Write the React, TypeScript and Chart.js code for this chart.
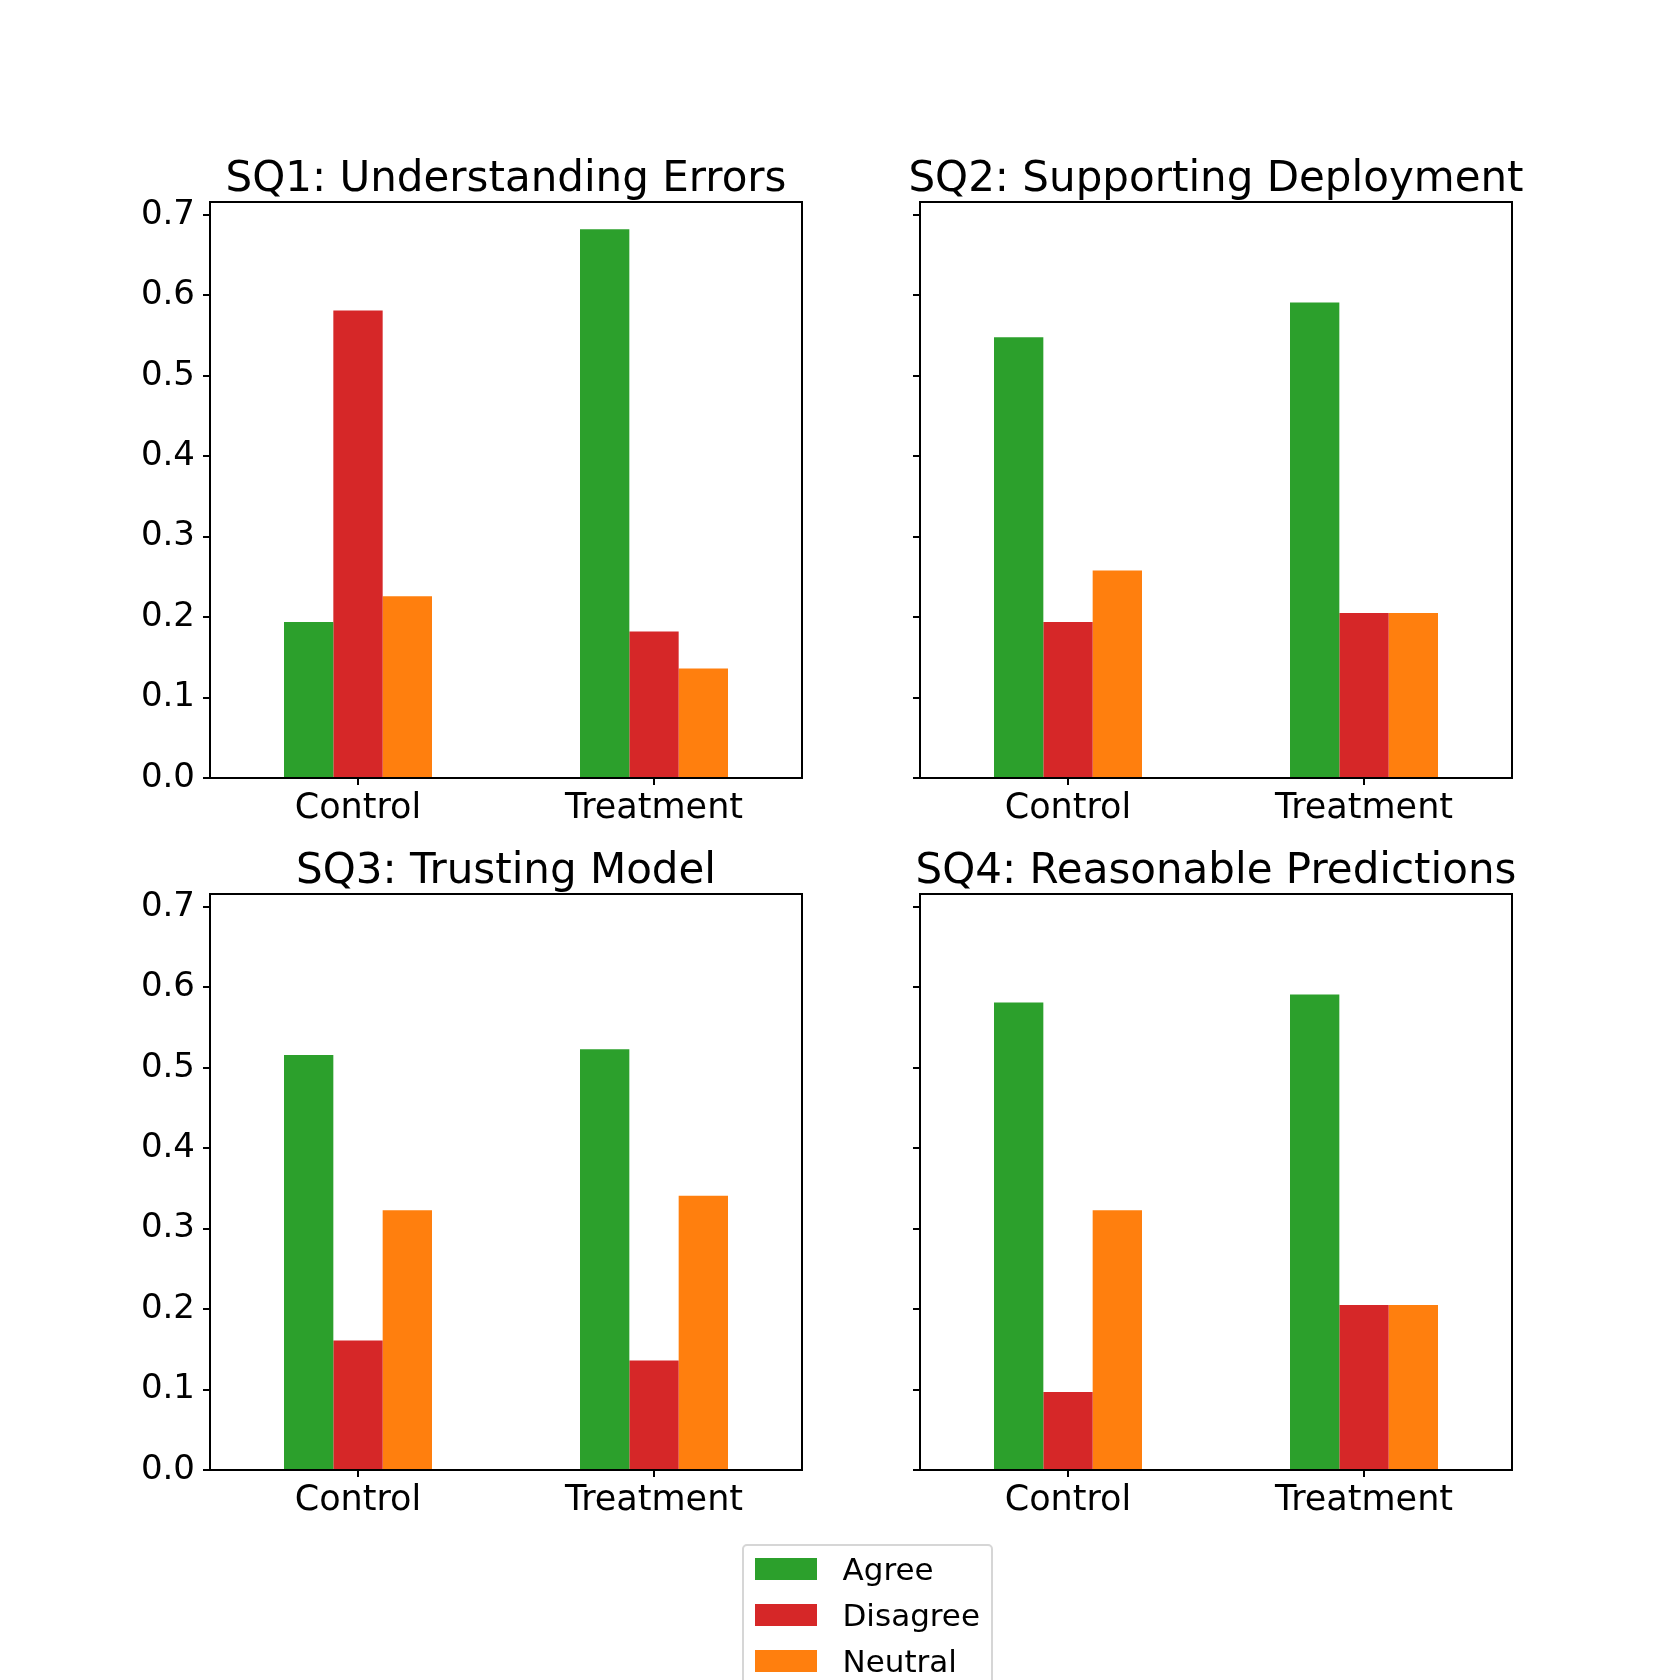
import React, { useEffect, useRef } from "react";
import { Chart, registerables } from "chart.js";

Chart.register(...registerables);

const categories = ["Control", "Treatment"];
const seriesLabels = ["Agree", "Disagree", "Neutral"];
const seriesColors = ["#2ca02c", "#d62728", "#ff7f0e"];

const sq1Agree = [0.194, 0.682];
const sq1Disagree = [0.581, 0.182];
const sq1Neutral = [0.226, 0.136];

const sq2Agree = [0.548, 0.591];
const sq2Disagree = [0.194, 0.205];
const sq2Neutral = [0.258, 0.205];

const sq3Agree = [0.516, 0.523];
const sq3Disagree = [0.161, 0.136];
const sq3Neutral = [0.323, 0.341];

const sq4Agree = [0.581, 0.591];
const sq4Disagree = [0.097, 0.205];
const sq4Neutral = [0.323, 0.205];

const titles = [
  "SQ1: Understanding Errors",
  "SQ2: Supporting Deployment",
  "SQ3: Trusting Model",
  "SQ4: Reasonable Predictions",
];

const yTicks = [0, 0.1, 0.2, 0.3, 0.4, 0.5, 0.6, 0.7];
const yMax = 0.716;

const panels = [
  { title: titles[0], data: [sq1Agree, sq1Disagree, sq1Neutral], showY: true },
  { title: titles[1], data: [sq2Agree, sq2Disagree, sq2Neutral], showY: false },
  { title: titles[2], data: [sq3Agree, sq3Disagree, sq3Neutral], showY: true },
  { title: titles[3], data: [sq4Agree, sq4Disagree, sq4Neutral], showY: false },
];

// layout (page pixels)
const AX_LEFT = [210, 920, 210, 920];
const AX_TOP = [202, 202, 894, 894];
const AX_W = 592;
const AX_H = 576;
const PAD_L = 200;
const PAD_T = 100;
const PAD_R = 60;
const PAD_B = 100;

const FONT = "'DejaVu Sans', 'Liberation Sans', sans-serif";

const framePlugin = {
  id: "frameTitle",
  afterDatasetsDraw(chart: any) {
    const { ctx, chartArea } = chart;
    const { left, top, right, bottom } = chartArea;
    ctx.save();
    ctx.strokeStyle = "#000";
    ctx.lineWidth = 2;
    ctx.strokeRect(left, top, right - left, bottom - top);
    ctx.restore();
  },
  afterDraw(chart: any, _args: any, opts: any) {
    const { ctx, chartArea } = chart;
    ctx.save();
    ctx.fillStyle = "#000";
    ctx.font = `42px ${FONT}`;
    ctx.textAlign = "center";
    ctx.textBaseline = "alphabetic";
    ctx.fillText(opts.text || "", (chartArea.left + chartArea.right) / 2, chartArea.top - 11);
    ctx.restore();
  },
};

function Panel({ idx }: { idx: number }) {
  const ref = useRef<HTMLCanvasElement | null>(null);
  const p = panels[idx];
  const w = AX_W + PAD_L + PAD_R;
  const h = AX_H + PAD_T + PAD_B;
  useEffect(() => {
    if (!ref.current) return;
    const chart = new Chart(ref.current, {
      type: "bar",
      data: {
        labels: categories,
        datasets: seriesLabels.map((lab, i) => ({
          label: lab,
          data: p.data[i],
          backgroundColor: seriesColors[i],
          borderWidth: 0,
          categoryPercentage: 0.5,
          barPercentage: 1.0,
        })),
      },
      options: {
        responsive: false,
        animation: false,
        devicePixelRatio: 1,
        layout: { padding: { top: PAD_T, right: PAD_R, left: 0, bottom: 0 } },
        plugins: {
          legend: { display: false },
          tooltip: { enabled: false },
          title: { display: false },
          frameTitle: { text: p.title },
        } as any,
        scales: {
          x: {
            type: "category",
            offset: true,
            grid: {
              offset: false,
              drawOnChartArea: false,
              drawTicks: true,
              tickLength: 7,
              tickWidth: 2,
              tickColor: "#000",
              color: "#000",
              lineWidth: 2,
            },
            border: { display: true, color: "#000", width: 2 },
            ticks: {
              color: "#000",
              font: { family: FONT, size: 35 },
              padding: 3,
              maxRotation: 0,
              autoSkip: false,
            },
            afterFit: (scale: any) => {
              scale.height = PAD_B;
            },
          },
          y: {
            type: "linear",
            min: 0,
            max: yMax,
            grid: {
              drawOnChartArea: false,
              drawTicks: true,
              tickLength: 7,
              tickWidth: 2,
              tickColor: "#000",
              color: "#000",
              lineWidth: 2,
            },
            border: { display: true, color: "#000", width: 2 },
            ticks: {
              display: p.showY,
              color: "#000",
              font: { family: FONT, size: 34 },
              padding: 8,
              callback: (v: any) => Number(v).toFixed(1),
            },
            afterBuildTicks: (scale: any) => {
              scale.ticks = yTicks.map((v) => ({ value: v }));
            },
            afterFit: (scale: any) => {
              scale.width = PAD_L;
            },
          },
        },
      } as any,
      plugins: [framePlugin as any],
    });
    return () => chart.destroy();
  }, [idx]);
  return (
    <canvas
      ref={ref}
      width={w}
      height={h}
      style={{
        position: "absolute",
        left: AX_LEFT[idx] - PAD_L,
        top: AX_TOP[idx] - PAD_T,
        width: w,
        height: h,
      }}
    />
  );
}

function Legend() {
  return (
    <div
      style={{
        position: "absolute",
        left: 741.5,
        top: 1544,
        width: 251,
        height: 170,
        boxSizing: "border-box",
        border: "2px solid #d6d6d6",
        borderRadius: 5,
        background: "rgba(255,255,255,0.8)",
        fontFamily: FONT,
        fontSize: 31,
        color: "#000",
      }}
    >
      {seriesLabels.map((lab, i) => (
        <div
          key={lab}
          style={{
            position: "absolute",
            left: 0,
            top: 0 + i * 46,
            height: 46,
            width: "100%",
            display: "flex",
            alignItems: "center",
          }}
        >
          <div
            style={{
              position: "absolute",
              left: 11,
              width: 62.5,
              height: 21.7,
              background: seriesColors[i],
            }}
          />
          <div style={{ position: "absolute", left: 99, lineHeight: "46px", whiteSpace: "nowrap" }}>
            {lab}
          </div>
        </div>
      ))}
    </div>
  );
}

export default function App() {
  useEffect(() => {
    document.body.style.margin = "0";
  }, []);
  return (
    <div
      style={{
        position: "absolute",
        left: 0,
        top: 0,
        width: 1680,
        height: 1680,
        overflow: "hidden",
        background: "#fff",
      }}
    >
      {[0, 1, 2, 3].map((i) => (
        <Panel key={i} idx={i} />
      ))}
      <Legend />
    </div>
  );
}
